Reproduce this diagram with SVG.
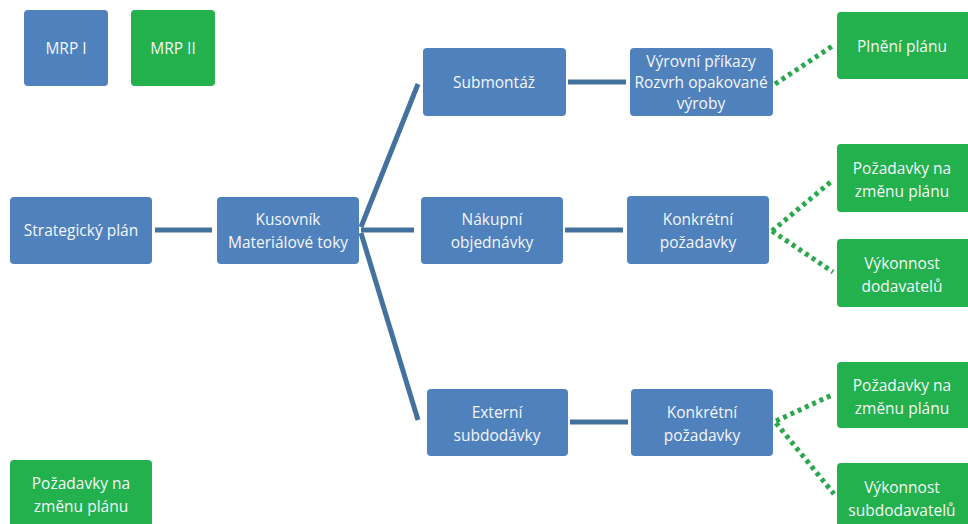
<svg xmlns="http://www.w3.org/2000/svg" width="968" height="524" viewBox="0 0 968 524">
<style>
.b{fill:#4F81BD}
.g{fill:#22B14C}
text{font-family:"Open Sans","Liberation Sans",sans-serif;font-size:15.5px;fill:#F4F6FA;text-anchor:middle}
.solid{stroke:#44729F;stroke-width:5;fill:none}
.dot{stroke:#2AA84D;stroke-width:5;fill:none;stroke-dasharray:4 4}
</style>
<rect width="968" height="524" fill="#fff"/>
<g id="connectors">
<line class="solid" x1="155" y1="230" x2="212" y2="230"/>
<line class="solid" x1="361" y1="227" x2="418" y2="84"/>
<line class="solid" x1="361" y1="230" x2="414" y2="230"/>
<line class="solid" x1="361" y1="233" x2="418" y2="420"/>
<line class="solid" x1="568" y1="82" x2="626" y2="82"/>
<line class="solid" x1="565" y1="230" x2="623" y2="230"/>
<line class="solid" x1="570" y1="422" x2="628" y2="422"/>
<line class="dot" x1="775" y1="84" x2="834" y2="45"/>
<line class="dot" x1="772" y1="231" x2="833" y2="180"/>
<line class="dot" x1="772" y1="231" x2="833" y2="272"/>
<line class="dot" x1="776" y1="421" x2="834" y2="394"/>
<line class="dot" x1="776" y1="423" x2="834" y2="494"/>
</g>
<g id="mrp1"><rect class="b" x="24" y="10" width="84" height="76" rx="4"/><text x="66" y="54">MRP I</text></g>
<g id="mrp2"><rect class="g" x="131" y="10" width="84" height="76" rx="4"/><text x="173" y="54">MRP II</text></g>
<g id="strategicky"><rect class="b" x="10" y="197" width="142" height="67" rx="4"/><text x="81" y="236">Strategický plán</text></g>
<g id="kusovnik"><rect class="b" x="217" y="197" width="142" height="67" rx="4"/><text x="288" y="225">Kusovník</text><text x="288" y="248">Materiálové toky</text></g>
<g id="submontaz"><rect class="b" x="423" y="48" width="143" height="68" rx="4"/><text x="494" y="88">Submontáž</text></g>
<g id="vyrovni"><rect class="b" x="630" y="48" width="143" height="68" rx="4"/><text x="701" y="67">Výrovní příkazy</text><text x="701" y="88">Rozvrh opakované</text><text x="701" y="109">výroby</text></g>
<g id="plneni"><rect class="g" x="837" y="12" width="140" height="67" rx="4"/><text x="902" y="52">Plnění plánu</text></g>
<g id="nakupni"><rect class="b" x="421" y="197" width="142" height="67" rx="4"/><text x="492" y="225">Nákupní</text><text x="492" y="248">objednávky</text></g>
<g id="konkretni1"><rect class="b" x="627" y="196" width="142" height="68" rx="4"/><text x="698" y="225">Konkrétní</text><text x="698" y="248">požadavky</text></g>
<g id="pozadavky1"><rect class="g" x="837" y="144" width="140" height="68" rx="4"/><text x="902" y="174">Požadavky na</text><text x="902" y="197">změnu plánu</text></g>
<g id="vykonnost1"><rect class="g" x="837" y="239" width="140" height="68" rx="4"/><text x="902" y="269">Výkonnost</text><text x="902" y="292">dodavatelů</text></g>
<g id="externi"><rect class="b" x="427" y="389" width="141" height="67" rx="4"/><text x="497" y="418">Externí</text><text x="497" y="441">subdodávky</text></g>
<g id="konkretni2"><rect class="b" x="631" y="389" width="142" height="67" rx="4"/><text x="702" y="418">Konkrétní</text><text x="702" y="441">požadavky</text></g>
<g id="pozadavky2"><rect class="g" x="837" y="362" width="140" height="66" rx="4"/><text x="902" y="391">Požadavky na</text><text x="902" y="414">změnu plánu</text></g>
<g id="vykonnost2"><rect class="g" x="837" y="463" width="140" height="70" rx="4"/><text x="902" y="493">Výkonnost</text><text x="902" y="516">subdodavatelů</text></g>
<g id="pozadavky3"><rect class="g" x="10" y="460" width="142" height="70" rx="4"/><text x="81" y="489">Požadavky na</text><text x="81" y="512">změnu plánu</text></g>
</svg>
